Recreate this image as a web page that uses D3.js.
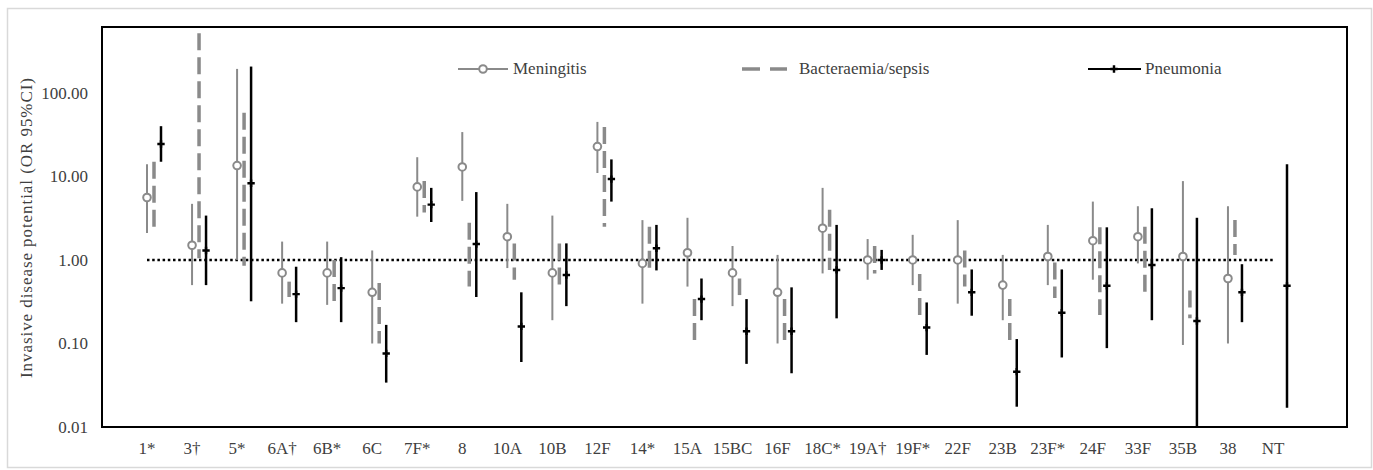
<!DOCTYPE html>
<html lang="en">
  <head>
    <meta charset="UTF-8" />
    <title>Invasive disease potential by serotype</title>
    <style>
      body {
        margin: 0;
        background-color: white;
      }
    </style>
  </head>
  <body>
    <script src="https://d3js.org/d3.v7.min.js"></script>
    <svg id="chart" width="1373" height="470" font-family="'Liberation Serif', 'DejaVu Serif', serif"></svg>
    <script>
      // Serotypes on the x axis
      var categories = ["1*", "3†", "5*", "6A†", "6B*", "6C", "7F*", "8", "10A", "10B", "12F", "14*", "15A",
        "15BC", "16F", "18C*", "19A†", "19F*", "22F", "23B", "23F*", "24F", "33F", "35B", "38", "NT"];

      // Meningitis OR with 95% CI
      var meningitisOR = [5.6, 1.5, 13.5, 0.7, 0.7, 0.41, 7.5, 13, 1.9, 0.7, 22.8, 0.91, 1.22,
        0.7, 0.41, 2.4, 1.0, 1.0, 1.0, 0.5, 1.1, 1.7, 1.9, 1.1, 0.6, null];
      var meningitisLo = [2.1, 0.5, 1.0, 0.3, 0.29, 0.1, 3.3, 5.1, 0.8, 0.19, 11, 0.3, 0.48,
        0.28, 0.1, 0.69, 0.58, 0.5, 0.3, 0.19, 0.5, 0.58, 0.91, 0.096, 0.1, null];
      var meningitisHi = [14, 4.7, 194, 1.66, 1.66, 1.3, 17, 34, 4.7, 3.4, 45, 3.0, 3.2,
        1.47, 1.15, 7.3, 1.78, 2.0, 3.0, 1.15, 2.63, 5.0, 4.4, 8.8, 4.4, null];

      // Bacteraemia/sepsis 95% CI (drawn as dashed range only)
      var bacteraemiaLo = [2.5, 1.05, 0.85, 0.36, 0.3, 0.1, 3.7, 0.48, 0.58, 0.48, 2.5, 0.76, 0.1,
        0.38, 0.1, 0.76, 0.69, 0.21, 0.48, 0.1, 0.35, 0.22, 0.35, 0.2, 1.15, null];
      var bacteraemiaHi = [15, 520, 58, 0.55, 1.0, 0.53, 8.8, 2.8, 1.58, 1.58, 39, 2.5, 0.34,
        0.6, 0.34, 4.0, 1.47, 0.68, 1.3, 0.34, 0.93, 2.46, 2.5, 0.43, 3.0, null];

      // Pneumonia OR with 95% CI
      var pneumoniaOR = [24.5, 1.3, 8.3, 0.39, 0.46, 0.076, 4.6, 1.55, 0.16, 0.66, 9.3, 1.38, 0.34,
        0.14, 0.14, 0.76, 1.0, 0.155, 0.41, 0.046, 0.234, 0.49, 0.87, 0.186, 0.41, 0.49];
      var pneumoniaLo = [15, 0.5, 0.32, 0.18, 0.18, 0.034, 2.85, 0.36, 0.06, 0.28, 5.0, 0.75, 0.19,
        0.057, 0.044, 0.2, 0.76, 0.073, 0.215, 0.0175, 0.068, 0.088, 0.19, 0.01, 0.18, 0.017];
      var pneumoniaHi = [40, 3.4, 207, 0.83, 1.08, 0.167, 7.3, 6.5, 0.41, 1.58, 16, 2.63, 0.6,
        0.34, 0.47, 2.63, 1.32, 0.31, 0.77, 0.113, 0.77, 2.46, 4.16, 3.2, 0.89, 14];

      var yTicks = [0.01, 0.1, 1, 10, 100];
      var legendLabels = ["Meningitis", "Bacteraemia/sepsis", "Pneumonia"];

      var svg = d3.select("#chart");
      var margin = { left: 102, top: 27, right: 26, bottom: 43 };
      var width = 1373 - margin.left - margin.right,
        height = 470 - margin.top - margin.bottom;
      var textColor = "#404040";

      // outer light frame
      svg.append("rect")
        .attr("x", 7.5).attr("y", 8.5)
        .attr("width", 1364).attr("height", 459)
        .attr("fill", "white")
        .attr("stroke", "#d9d9d9")
        .attr("stroke-width", 1.5);

      var g = svg.append("g").attr("transform", "translate(" + margin.left + "," + margin.top + ")");

      var x = d3.scalePoint().domain(categories).range([45, 1171]);
      var y = d3.scaleLog().domain([0.01, 616]).range([height, 0]);

      var grey = "#8a8a8a";

      // reference line at OR = 1
      g.append("line")
        .attr("x1", x(categories[0])).attr("x2", x(categories[categories.length - 1]))
        .attr("y1", y(1)).attr("y2", y(1))
        .attr("stroke", "black")
        .attr("stroke-width", 2.5)
        .attr("stroke-dasharray", "2.5,2.7");

      var idx = d3.range(categories.length);
      var clip = function (v) { return Math.max(v, 0.01); };

      // meningitis
      var men = idx.filter(function (i) { return meningitisOR[i] != null; });
      g.selectAll(".menLine").data(men).enter().append("line")
        .attr("x1", function (i) { return x(categories[i]); })
        .attr("x2", function (i) { return x(categories[i]); })
        .attr("y1", function (i) { return y(meningitisHi[i]); })
        .attr("y2", function (i) { return y(meningitisLo[i]); })
        .attr("stroke", grey).attr("stroke-width", 2);

      // bacteraemia/sepsis
      var bac = idx.filter(function (i) { return bacteraemiaLo[i] != null; });
      g.selectAll(".bacLine").data(bac).enter().append("line")
        .attr("x1", function (i) { return x(categories[i]) + 7; })
        .attr("x2", function (i) { return x(categories[i]) + 7; })
        .attr("y1", function (i) { return y(bacteraemiaHi[i]); })
        .attr("y2", function (i) { return y(bacteraemiaLo[i]); })
        .attr("stroke", grey).attr("stroke-width", 3.5)
        .attr("stroke-dasharray", "17,7");

      // pneumonia
      g.selectAll(".pneLine").data(idx).enter().append("line")
        .attr("x1", function (i) { return x(categories[i]) + 14; })
        .attr("x2", function (i) { return x(categories[i]) + 14; })
        .attr("y1", function (i) { return y(pneumoniaHi[i]); })
        .attr("y2", function (i) { return y(clip(pneumoniaLo[i])); })
        .attr("stroke", "black").attr("stroke-width", 2.5);

      g.selectAll(".menDot").data(men).enter().append("circle")
        .attr("cx", function (i) { return x(categories[i]); })
        .attr("cy", function (i) { return y(meningitisOR[i]); })
        .attr("r", 3.8)
        .attr("fill", "white").attr("stroke", grey).attr("stroke-width", 2);

      var cross = d3.symbol().type(d3.symbolCross).size(30);
      g.selectAll(".pneDot").data(idx).enter().append("path")
        .attr("d", cross)
        .attr("transform", function (i) {
          return "translate(" + (x(categories[i]) + 14) + "," + y(pneumoniaOR[i]) + ")";
        })
        .attr("fill", "black");

      // frame
      g.append("rect")
        .attr("width", width).attr("height", height)
        .attr("fill", "none").attr("stroke", "black").attr("stroke-width", 2);

      // y tick labels
      g.selectAll(".ytick").data(yTicks).enter().append("text")
        .attr("x", -14)
        .attr("y", function (d) { return y(d); })
        .attr("dy", "0.35em")
        .attr("text-anchor", "end")
        .attr("fill", textColor)
        .style("font-size", "17px")
        .text(d3.format(".2f"));

      // x labels
      g.selectAll(".xtick").data(categories).enter().append("text")
        .attr("x", function (d) { return x(d); })
        .attr("y", height + 27)
        .attr("text-anchor", "middle")
        .attr("fill", textColor)
        .style("font-size", "17px")
        .text(function (d) { return d; });

      // y axis title
      svg.append("text")
        .attr("transform", "translate(32,228) rotate(-90)")
        .attr("text-anchor", "middle")
        .attr("textLength", 300)
        .attr("lengthAdjust", "spacing")
        .attr("fill", textColor)
        .style("font-size", "17px")
        .text("Invasive disease potential (OR 95%CI)");

      // legend
      var legend = svg.append("g").attr("transform", "translate(0,69)");
      legend.append("line").attr("x1", 458).attr("x2", 508)
        .attr("stroke", grey).attr("stroke-width", 2);
      legend.append("circle").attr("cx", 483).attr("r", 3.8)
        .attr("fill", "white").attr("stroke", grey).attr("stroke-width", 2);
      legend.append("text").attr("x", 513).attr("dy", "0.32em").attr("fill", textColor)
        .style("font-size", "17px").text(legendLabels[0]);

      legend.append("line").attr("x1", 742).attr("x2", 787)
        .attr("stroke", grey).attr("stroke-width", 3.5)
        .attr("stroke-dasharray", "18,10");
      legend.append("text").attr("x", 799).attr("dy", "0.32em").attr("fill", textColor)
        .style("font-size", "17px").text(legendLabels[1]);

      legend.append("line").attr("x1", 1088).attr("x2", 1141)
        .attr("stroke", "black").attr("stroke-width", 2);
      legend.append("path").attr("d", cross).attr("transform", "translate(1114,0)");
      legend.append("text").attr("x", 1145).attr("dy", "0.32em").attr("fill", textColor)
        .style("font-size", "17px").text(legendLabels[2]);
    </script>
  </body>
</html>
